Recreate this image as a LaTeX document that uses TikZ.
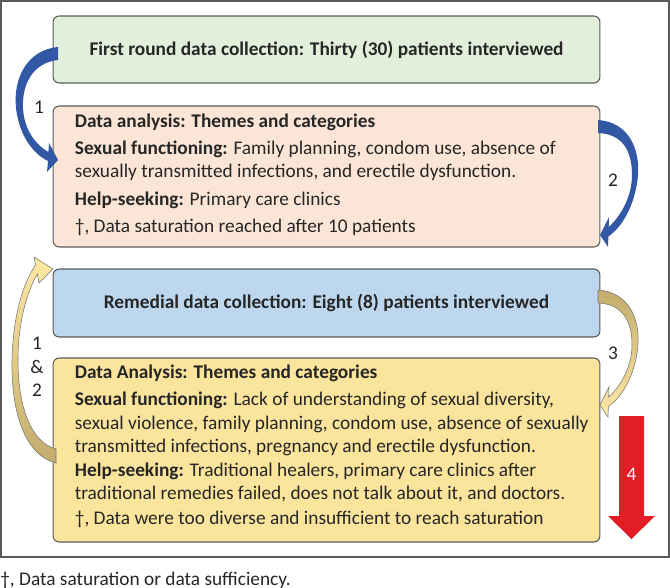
\documentclass[tikz,border=0pt]{standalone}
\usepackage{fontspec}
\setmainfont{Carlito}
\usetikzlibrary{positioning, calc}

\definecolor{roundgreen}{HTML}{E2EFDA}
\definecolor{analysispeach}{HTML}{FBE5D6}
\definecolor{remedialblue}{HTML}{BDD7EE}
\definecolor{analysisgold}{HTML}{FBE49C}
\definecolor{loopblue}{HTML}{3157A5}
\definecolor{looptan}{HTML}{C2AC6C}
\definecolor{looplight}{HTML}{FFE9A3}
\definecolor{stopred}{HTML}{E31D25}
\definecolor{boxgray}{HTML}{5A5A5A}
\definecolor{inktext}{HTML}{262626}

\newcommand{\boxfont}{\fontsize{11}{13.4}\selectfont}

\tikzset{
  stagebox/.style={draw=boxgray, line width=0.6pt, rounded corners=3.5pt, minimum width=10.94cm, inner sep=0pt},
  titletext/.style={font=\boxfont\bfseries, text=inktext},
  bodytext/.style={font=\boxfont, align=left, anchor=north west, inner sep=0pt, text=inktext},
  looplabel/.style={font=\boxfont, text=inktext, inner sep=0pt, align=center},
  goldarrow/.style={draw=black!55, line width=0.3pt},
}

\begin{document}
\begin{tikzpicture}[x=0.02cm, y=-0.02cm]
    \useasboundingbox (0,0) rectangle (670,588);
    \draw[boxgray, line width=0.8pt] (1,1) rectangle (669,557);

    % first round
    \node[stagebox, fill=roundgreen, minimum height=1.34cm, titletext] (roundOne) at (326.5,49.5)
        {First round data collection: Thirty (30) patients interviewed};

    % first analysis
    \node[stagebox, fill=analysispeach, minimum height=2.82cm] (analysisOne) at (326.5,176.5) {};
    \node[bodytext] (analysisOneText) at ($(analysisOne.north west)+(22,8)$) {%
        \textbf{Data analysis: Themes and categories}\\[2pt]
        \textbf{Sexual functioning:} Family planning, condom use, absence of\\
        sexually transmitted infections, and erectile dysfunction.\\[2pt]
        \textbf{Help-seeking:} Primary care clinics\\[2pt]
        \textdagger, Data saturation reached after 10 patients};

    % remedial round
    \node[stagebox, fill=remedialblue, minimum height=1.36cm, titletext] (remedial) at (326.5,303)
        {Remedial data collection: Eight (8) patients interviewed};

    % second analysis
    \node[stagebox, fill=analysisgold, minimum height=3.68cm] (analysisTwo) at (326.5,450) {};
    \node[bodytext] (analysisTwoText) at ($(analysisTwo.north west)+(22,7)$) {%
        \textbf{Data Analysis: Themes and categories}\\[2pt]
        \textbf{Sexual functioning:} Lack of understanding of sexual diversity,\\
        sexual violence, family planning, condom use, absence of sexually\\
        transmitted infections, pregnancy and erectile dysfunction.\\
        \textbf{Help-seeking:} Traditional healers, primary care clinics after\\
        traditional remedies failed, does not talk about it, and doctors.\\[1pt]
        \textdagger, Data were too diverse and insufficient to reach saturation};

    % loop 1 (blue)
    \fill[loopblue] (58,47) .. controls (26,50) and (13,80) .. (16,108)
        .. controls (19,135) and (33,154) .. (48,161) -- (47,172) -- (58,160) -- (49,143)
        -- (48.4,152) .. controls (36,145) and (24,130) .. (23,108)
        .. controls (22,85) and (32,63) .. (58,60) -- cycle;
    \node[looplabel] (loopOneLabel) at (39,107) {1};

    % loop 2 (blue)
    \fill[loopblue] (598,120) .. controls (628,122) and (640,148) .. (638,175)
        .. controls (636,200) and (625,225) .. (608.4,236.5) -- (608,247) -- (600,235) -- (609,217)
        -- (608.7,227) .. controls (622,215) and (632,195) .. (632,175)
        .. controls (632,150) and (622,134) .. (598,133) -- cycle;
    \node[looplabel] (loopTwoLabel) at (613,180) {2};

    % loop 3 (gold)
    \shadedraw[goldarrow, top color=looptan, bottom color=looplight]
        (598,290) .. controls (628,292) and (640,318) .. (638,345)
        .. controls (636,370) and (625,395) .. (608.4,406.5) -- (608,417) -- (600,405) -- (609,387)
        -- (608.7,397) .. controls (622,385) and (632,365) .. (632,345)
        .. controls (632,320) and (622,304) .. (598,303) -- cycle;
    \node[looplabel] (loopThreeLabel) at (613,353) {3};

    % loop back 1 & 2 (gold)
    \shadedraw[goldarrow, top color=looplight, bottom color=looptan]
        (56,463) .. controls (24,455) and (11,410) .. (12,360)
        .. controls (13,318) and (22,285) .. (35.5,265) -- (34,257) -- (53,269) -- (39,283)
        -- (37.3,274) .. controls (27,292) and (18,322) .. (18,360)
        .. controls (18,405) and (30,442) .. (56,449) -- cycle;
    \node[looplabel] (loopBackLabel) at (37,367) {1\\\&\\2};

    % stop (red)
    \fill[stopred] (619,416) -- (644,416) -- (644,516) -- (655,516) -- (631.5,539)
        -- (608,516) -- (619,516) -- cycle;
    \node[looplabel, text=white] (stopLabel) at (631.5,474) {4};

    \node[bodytext, anchor=west] (footnote) at (0,580) {\textdagger, Data saturation or data sufficiency.};
\end{tikzpicture}
\end{document}
